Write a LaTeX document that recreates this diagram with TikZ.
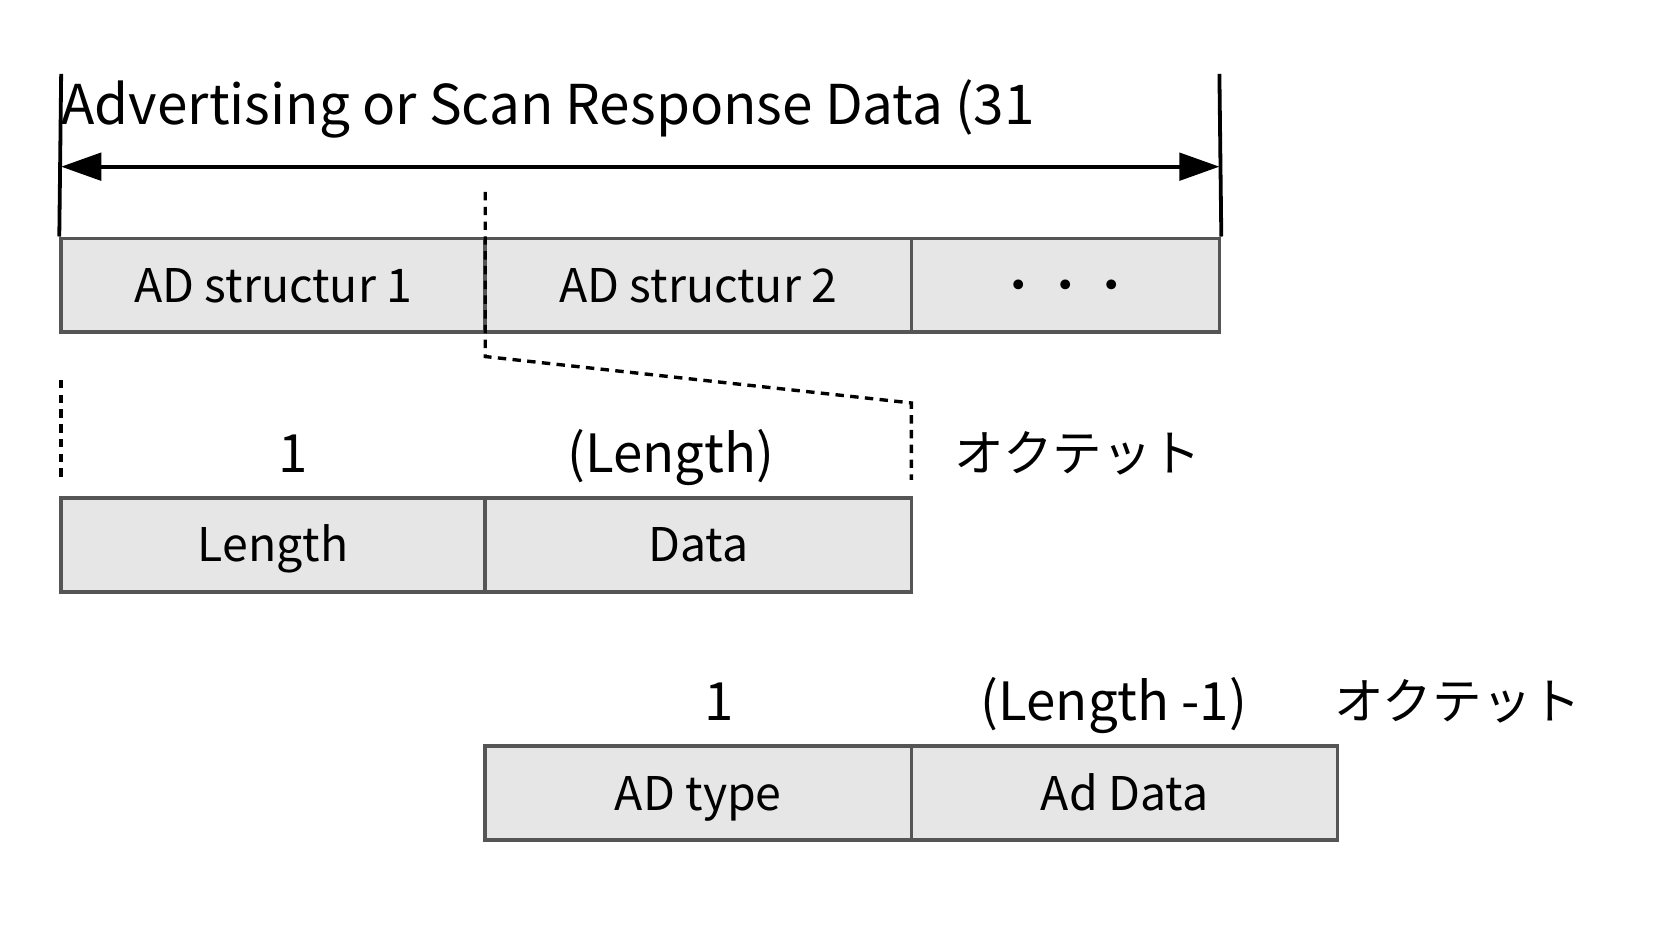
\documentclass[tikz,border=0pt]{standalone}
\usepackage{fontspec}
\setmainfont{Noto Sans CJK JP}
\usetikzlibrary{arrows.meta}
\definecolor{boxfill}{HTML}{E6E6E6}
\definecolor{boxline}{HTML}{555555}
\begin{document}
\begin{tikzpicture}[x=0.5pt,y=-0.5pt,
  cell/.style={draw=boxline, fill=boxfill, line width=1.8pt, minimum height=44.5pt, inner sep=0pt, text height=16pt, text depth=0pt, font=\fontsize{22}{22}\selectfont},
  lbl/.style={inner sep=0pt, text height=18pt, text depth=0pt, font=\fontsize{25}{25}\selectfont},
  kata/.style={inner sep=0pt, text height=17pt, text depth=0pt, font=\fontsize{23.5}{23.5}\selectfont},
  guide/.style={line width=1.8pt, black},
  dashguide/.style={line width=1.6pt, black, dash pattern=on 4pt off 3pt}]
\useasboundingbox (0,0) rectangle (1568,896);
% row 1
\node[cell, minimum width=201pt] (s1) at (259,270.5) {AD structur 1};
\node[cell, minimum width=202pt] (s2) at (662,270.5) {AD structur 2};
\node[cell, minimum width=146pt] (s3) at (1010,270.5) {・・・};
% title and span arrow
\node[anchor=base west, inner sep=0pt, font=\fontsize{26}{26}\selectfont] (title) at (58,118) {Advertising or Scan Response Data (31};
\coordinate (tl) at (58,70);
\coordinate (tr) at (1156,70);
\coordinate (aL) at (58,158);
\coordinate (aR) at (1156,158);
\draw[guide] (tl) -- (s1.north west);
\draw[guide] (tr) -- (s3.north east);
\draw[guide, {Triangle[length=19pt,width=13pt]}-{Triangle[length=19pt,width=13pt]}] (aL) -- (aR);
% row 2
\node[cell, minimum width=201pt] (len) at (259,516.5) {Length};
\node[cell, minimum width=202pt] (dat) at (662,516.5) {Data};
\node[lbl] (n1) at (278,430) {1};
\node[lbl] (nl) at (636,430) {(Length)};
\node[kata] (o1) at (1022,430) {オクテット};
% zoom guides
\coordinate (d1) at (460,182);
\coordinate (d2) at (460,338);
\coordinate (d3) at (864,382);
\coordinate (d4) at (864,455);
\coordinate (e1) at (58,360);
\coordinate (e2) at (58,455);
\draw[dashguide] (d1) -- (d2) -- (d3) -- (d4);
\draw[dashguide] (e1) -- (e2);
% row 3
\node[cell, minimum width=202pt] (typ) at (662,752) {AD type};
\node[cell, minimum width=202pt] (add) at (1066,752) {Ad Data};
\node[lbl] (m1) at (682,665) {1};
\node[lbl] (ml) at (1056,665) {(Length -1)};
\node[kata] (o2) at (1382,665) {オクテット};
\end{tikzpicture}
\end{document}
